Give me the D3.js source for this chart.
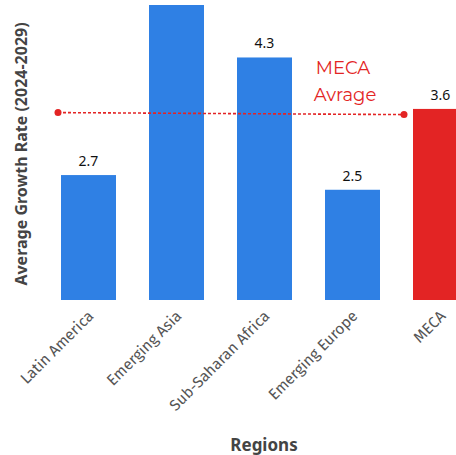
<!DOCTYPE html>
<html>
<head>
<meta charset="utf-8">
<script src="https://cdn.jsdelivr.net/npm/d3@7"></script>
<style>
  body { margin: 0; background: #fff; }
  svg { display: block; font-family: "Noto Sans", sans-serif; }
</style>
</head>
<body>
<svg id="drawing_region"></svg>
<script>
var regions = ['Latin America', 'Emerging Asia', 'Sub-Saharan Africa', 'Emerging Europe', 'MECA'];
var growth = [2.7, 5.2, 4.3, 2.5, 3.6];
var valueLabels = ['2.7', '5.2', '4.3', '2.5', '3.6'];
var mecaAverage = 3.55;

var width = 456;
var height = 455;
var margin = {top: 5, bottom: 155};
const inner_height = height - margin.top - margin.bottom;

var svg = d3.select('#drawing_region')
    .attr('width', width)
    .attr('height', height);

svg.append('defs').append('clipPath')
    .attr('id', 'plot_clip')
    .append('rect')
    .attr('x', 0).attr('y', margin.top)
    .attr('width', width).attr('height', inner_height);

const xscale = d3.scaleBand()
      .domain(regions)
      .range([44.5, 484.5])
      .paddingInner(0.375)
      .paddingOuter(0.1875);

const yscale = d3.scaleLinear()
      .domain([1, 5.014])
      .range([height - margin.bottom, margin.top]);

const plot = svg.append('g').attr('clip-path', 'url(#plot_clip)');

plot.selectAll('rect.bar')
    .data(regions)
    .join('rect')
    .attr('class', 'bar')
    .attr('x', d => xscale(d))
    .attr('width', xscale.bandwidth())
    .attr('y', (d, i) => yscale(growth[i]))
    .attr('height', (d, i) => yscale(1) - yscale(growth[i]))
    .attr('fill', d => d === 'MECA' ? '#e32424' : '#2f80e4');

// value labels that fall inside the visible plot area
const visible = regions.map((d, i) => ({d: d, i: i}))
    .filter(o => yscale(growth[o.i]) - 9 > 14);
svg.selectAll('text.value')
    .data(visible)
    .join('text')
    .attr('class', 'value')
    .attr('x', o => xscale(o.d) + xscale.bandwidth() / 2)
    .attr('y', o => yscale(growth[o.i]) - 9)
    .attr('text-anchor', 'middle')
    .attr('font-size', 14)
    .attr('fill', '#111')
    .text(o => valueLabels[o.i]);

// average line
const avgY = yscale(mecaAverage);
const x0 = xscale(regions[0]) - 3;
const x1 = xscale('MECA') - 9;
svg.append('line')
    .attr('x1', x0).attr('x2', x1)
    .attr('y1', avgY).attr('y2', avgY + 2)
    .attr('stroke', '#e32424')
    .attr('stroke-width', 1.6)
    .attr('stroke-dasharray', '3,2');
svg.selectAll('circle.avg')
    .data([[x0, avgY], [x1, avgY + 2]])
    .join('circle')
    .attr('cx', d => d[0]).attr('cy', d => d[1])
    .attr('r', 3.5)
    .attr('fill', '#e32424');

const note = svg.append('text')
    .attr('text-anchor', 'middle')
    .attr('font-family', 'Montserrat, "Open Sans", sans-serif')
    .attr('font-size', 18)
    .attr('fill', '#e32424');
note.append('tspan').attr('x', 343).attr('y', 74).text('MECA');
note.append('tspan').attr('x', 345).attr('y', 101).text('Avrage');

// x axis
const xaxis = d3.axisBottom(xscale).tickSize(0).tickPadding(0);
const xaxis_group = svg.append('g')
    .attr('transform', `translate(0, ${height - margin.bottom})`)
    .call(xaxis);
xaxis_group.select('.domain').remove();
xaxis_group.selectAll('text')
    .attr('font-size', 15.5)
    .attr('font-family', '"Fira Sans", "Noto Sans", sans-serif')
    .attr('fill', '#555')
    .attr('text-anchor', 'end')
    .attr('dy', 0)
    .attr('transform', 'translate(6, 17) rotate(-45)');

svg.append('text')
    .attr('x', 264)
    .attr('y', 451)
    .attr('text-anchor', 'middle')
    .attr('font-size', 17)
    .attr('font-weight', 'bold')
    .attr('fill', '#444')
    .text('Regions');

svg.append('text')
    .attr('transform', 'translate(27, 154) rotate(-90)')
    .attr('text-anchor', 'middle')
    .attr('font-size', 16)
    .attr('font-weight', 'bold')
    .attr('fill', '#444')
    .text('Average Growth Rate (2024-2029)');
</script>
</body>
</html>
